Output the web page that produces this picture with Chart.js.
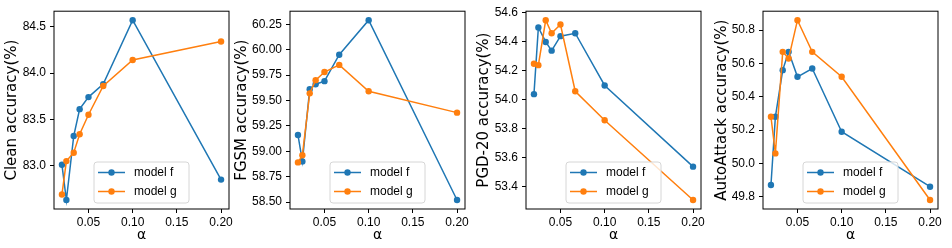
<!DOCTYPE html>
<html>
<head>
<meta charset="utf-8">
<script src="https://cdn.jsdelivr.net/npm/chart.js@4"></script>
<style>
  html, body { margin: 0; padding: 0; background: #fff; }
  body { position: relative; width: 952px; height: 248px; overflow: hidden; }
  canvas { position: absolute; top: 0; }
</style>
</head>
<body>
<canvas id="clean" width="237" height="248"></canvas>
<canvas id="fgsm" width="243" height="248"></canvas>
<canvas id="pgd" width="237" height="248"></canvas>
<canvas id="aa" width="237" height="248"></canvas>
<script>
(function () {
    "use strict";

    // data
    var alpha = [0.02, 0.025, 0.0333, 0.04, 0.05, 0.0667, 0.1, 0.2];

    var cleanF = [83.01, 82.63, 83.32, 83.61, 83.74, 83.88, 84.57, 82.85];
    var cleanG = [82.69, 83.05, 83.14, 83.34, 83.55, 83.86, 84.14, 84.34];
    var fgsmF = [59.16, 58.90, 59.61, 59.66, 59.69, 59.95, 60.29, 58.52];
    var fgsmG = [58.89, 58.96, 59.57, 59.70, 59.78, 59.85, 59.59, 59.38];
    var pgdF = [54.04, 54.50, 54.40, 54.34, 54.44, 54.46, 54.10, 53.54];
    var pgdG = [54.25, 54.24, 54.55, 54.46, 54.52, 54.06, 53.86, 53.31];
    var aaF = [49.87, 50.28, 50.56, 50.67, 50.52, 50.57, 50.19, 49.86];
    var aaG = [50.28, 50.06, 50.67, 50.63, 50.86, 50.67, 50.52, 49.78];

    var xTicks = [0.05, 0.10, 0.15, 0.20];
    var cleanTicks = [83.0, 83.5, 84.0, 84.5];
    var fgsmTicks = [58.50, 58.75, 59.00, 59.25, 59.50, 59.75, 60.00, 60.25];
    var pgdTicks = [53.4, 53.6, 53.8, 54.0, 54.2, 54.4, 54.6];
    var aaTicks = [49.8, 50.0, 50.2, 50.4, 50.6, 50.8];

    var seriesNames = ["model f", "model g"];
    var blue = "#1f77b4";
    var orange = "#ff7f0e";
    var tickFont = { family: "'Liberation Sans', Arial, sans-serif", size: 12 };

    function points(ys) {
        return alpha.map(function (x, i) { return { x: x, y: ys[i] }; });
    }

    // frame round the plot area plus a matplotlib-like legend at lower centre
    var framePlugin = {
        id: "frame",
        afterDatasetsDraw: function (chart) {
            var ctx = chart.ctx, a = chart.chartArea;
            ctx.save();
            ctx.strokeStyle = "#000";
            ctx.lineWidth = 1;
            ctx.strokeRect(a.left, a.top, a.right - a.left, a.bottom - a.top);

            var w = 95, h = 41;
            var x = (a.left + a.right) / 2 - w / 2;
            var y = a.bottom - 6 - h;
            ctx.beginPath();
            ctx.roundRect(x, y, w, h, 3);
            ctx.fillStyle = "rgba(255,255,255,0.8)";
            ctx.fill();
            ctx.strokeStyle = "#d6d6d6";
            ctx.stroke();

            chart.data.datasets.forEach(function (ds, i) {
                var ry = y + 10.5 + i * 19;
                ctx.strokeStyle = ds.borderColor;
                ctx.lineWidth = 1.5;
                ctx.beginPath();
                ctx.moveTo(x + 4, ry);
                ctx.lineTo(x + 31, ry);
                ctx.stroke();
                ctx.fillStyle = ds.borderColor;
                ctx.beginPath();
                ctx.arc(x + 17.5, ry, 3.2, 0, Math.PI * 2);
                ctx.fill();
                ctx.fillStyle = "#000";
                ctx.font = "12px 'Liberation Sans', Arial, sans-serif";
                ctx.textBaseline = "middle";
                ctx.fillText(ds.label, x + 40, ry + 0.5);
            });
            ctx.restore();
        }
    };

    function makeChart(id, axesLeft, yWidth, title, titlePad, f, g, yTicks, decimals) {
        var canvas = document.getElementById(id);
        canvas.style.left = (axesLeft - yWidth) + "px";

        var all = f.concat(g);
        var lo = Math.min.apply(null, all), hi = Math.max.apply(null, all);
        var pad = (hi - lo) * 0.05;
        var xPad = (alpha[alpha.length - 1] - alpha[0]) * 0.05;

        return new Chart(canvas.getContext("2d"), {
            type: "scatter",
            data: {
                datasets: [{
                    label: seriesNames[0],
                    data: points(f),
                    borderColor: blue,
                    backgroundColor: blue,
                    order: 1
                }, {
                    label: seriesNames[1],
                    data: points(g),
                    borderColor: orange,
                    backgroundColor: orange,
                    order: 0
                }]
            },
            options: {
                responsive: false,
                animation: false,
                devicePixelRatio: 1,
                showLine: true,
                borderWidth: 1.5,
                elements: {
                    point: { radius: 3.2, borderWidth: 0, hoverRadius: 3.2 },
                    line: { borderWidth: 1.5, tension: 0 }
                },
                layout: { padding: { left: 0, top: 10.7, right: 8, bottom: 0 } },
                plugins: {
                    legend: { display: false },
                    tooltip: { enabled: false }
                },
                scales: {
                    x: {
                        type: "linear",
                        min: alpha[0] - xPad,
                        max: alpha[alpha.length - 1] + xPad,
                        afterBuildTicks: function (s) {
                            s.ticks = xTicks.map(function (v) { return { value: v }; });
                        },
                        afterFit: function (s) { s.height = 39; },
                        ticks: {
                            color: "#000",
                            font: tickFont,
                            padding: 2,
                            maxRotation: 0,
                            callback: function (v) { return v.toFixed(2); }
                        },
                        grid: { drawOnChartArea: false, drawTicks: true, tickLength: 4, tickColor: "#000" },
                        border: { display: false },
                        title: {
                            display: true,
                            text: "α",
                            color: "#000",
                            font: { family: "'DejaVu Sans', sans-serif", size: 14 },
                            padding: { top: 0, bottom: 4 }
                        }
                    },
                    y: {
                        type: "linear",
                        min: lo - pad,
                        max: hi + pad,
                        afterBuildTicks: function (s) {
                            s.ticks = yTicks.map(function (v) { return { value: v }; });
                        },
                        afterFit: function (s) { s.width = yWidth; },
                        ticks: {
                            color: "#000",
                            font: tickFont,
                            padding: 4,
                            callback: function (v) { return v.toFixed(decimals); }
                        },
                        grid: { drawOnChartArea: false, drawTicks: true, tickLength: 4, tickColor: "#000" },
                        border: { display: false },
                        title: {
                            display: true,
                            text: title,
                            color: "#000",
                            font: { family: "'DejaVu Sans', sans-serif", size: 15 },
                            padding: { top: titlePad, bottom: 0 }
                        }
                    }
                }
            },
            plugins: [framePlugin]
        });
    }

    makeChart("clean", 54, 54, "Clean accuracy(%)", 3.4, cleanF, cleanG, cleanTicks, 1);
    makeChart("fgsm", 290, 60, "FGSM accuracy(%)", 3, fgsmF, fgsmG, fgsmTicks, 2);
    makeChart("pgd", 526, 54, "PGD-20 accuracy(%)", 3.4, pgdF, pgdG, pgdTicks, 1);
    makeChart("aa", 763, 54, "AutoAttack accuracy(%)", 4, aaF, aaG, aaTicks, 1);
})();
</script>
</body>
</html>
